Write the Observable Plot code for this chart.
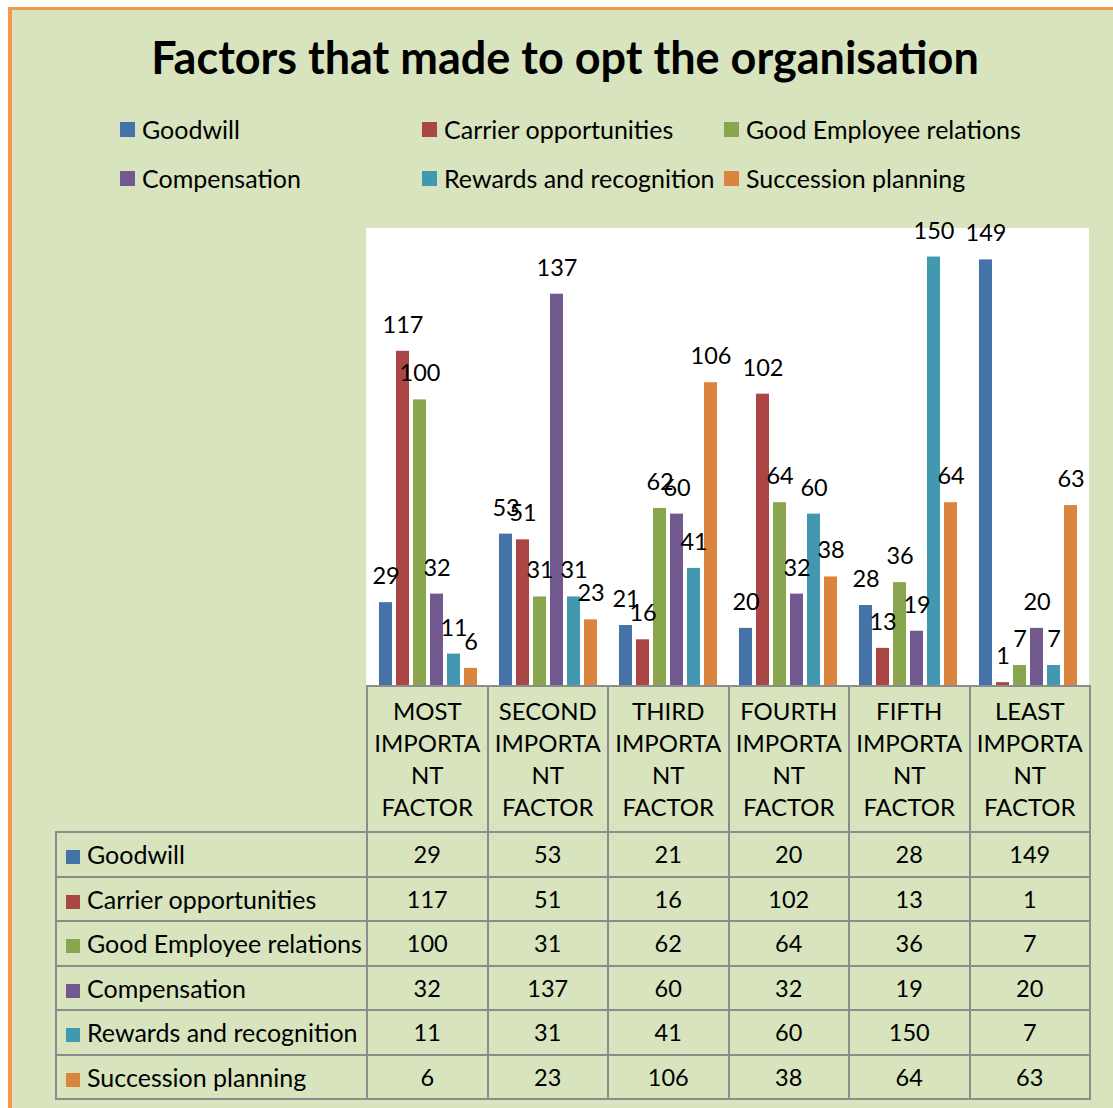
<!DOCTYPE html>
<html><head><meta charset="utf-8">
<script src="https://cdn.jsdelivr.net/npm/d3@7"></script>
<script src="https://cdn.jsdelivr.net/npm/@observablehq/plot@0.6"></script>
<style>
body{margin:0;background:#fff;}
#page{position:relative;width:1113px;height:1108px;background:#fff;overflow:hidden;font-family:Lato, "Open Sans", sans-serif;color:#000;}
#bg{position:absolute;left:8px;top:7px;right:0;bottom:0;background:#d7e4bd;border-left:4px solid #f79646;border-top:3px solid #f79646;}
#title{position:absolute;left:17px;width:1096px;top:35px;text-align:center;font-size:45px;line-height:45px;font-weight:700;white-space:nowrap;}
.leg{position:absolute;font-size:25px;line-height:25px;white-space:nowrap;display:flex;align-items:center;}
.leg .sw{display:inline-block;width:15px;height:15px;margin-right:7px;}
#plotbg{position:absolute;left:366px;top:228px;width:723px;height:457px;background:#fff;}
#chart{position:absolute;left:0;top:200px;}
#tbl{position:absolute;left:55px;top:685px;border-collapse:collapse;table-layout:fixed;width:1034px;font-size:23.5px;}
#tbl td{border:2px solid #8c8c8c;padding:0;text-align:center;vertical-align:middle;}
#tbl tr.head td{height:144px;line-height:32px;font-size:24px;}
#tbl tr.row td{height:42.5px;line-height:24px;}
#tbl td.lab{text-align:left;padding-left:9px;white-space:nowrap;font-size:25px;}
#tbl td.lab .sw{display:inline-block;width:14px;height:14px;margin-right:7px;vertical-align:0px;}
#tbl td.blank{border-top:none;border-left:none;}
</style>
</head><body>
<div id="page">
  <div id="bg"></div>
  <div id="title">Factors that made to opt the organisation</div>
  <div id="plotbg"></div>
  <div id="chart"></div>
</div>
<script>
// ---- data ----
const categories = ["MOST IMPORTANT FACTOR", "SECOND IMPORTANT FACTOR", "THIRD IMPORTANT FACTOR", "FOURTH IMPORTANT FACTOR", "FIFTH IMPORTANT FACTOR", "LEAST IMPORTANT FACTOR"];
const tickLabels = [["MOST","IMPORTA","NT","FACTOR"],["SECOND","IMPORTA","NT","FACTOR"],["THIRD","IMPORTA","NT","FACTOR"],["FOURTH","IMPORTA","NT","FACTOR"],["FIFTH","IMPORTA","NT","FACTOR"],["LEAST","IMPORTA","NT","FACTOR"]];
const series = ["Goodwill", "Carrier opportunities", "Good Employee relations", "Compensation", "Rewards and recognition", "Succession planning"];
const colors = ["#4572a7", "#aa4643", "#89a54e", "#71588f", "#4198af", "#db843d"];
const goodwill = [29, 53, 21, 20, 28, 149];
const carrierOpportunities = [117, 51, 16, 102, 13, 1];
const goodEmployeeRelations = [100, 31, 62, 64, 36, 7];
const compensation = [32, 137, 60, 32, 19, 20];
const rewardsAndRecognition = [11, 31, 41, 60, 150, 7];
const successionPlanning = [6, 23, 106, 38, 64, 63];
const seriesValues = [goodwill, carrierOpportunities, goodEmployeeRelations, compensation, rewardsAndRecognition, successionPlanning];

const data = series.flatMap((s, i) => categories.map((c, j) => ({series: s, category: c, value: seriesValues[i][j]})));

// ---- legend ----
const page = document.getElementById("page");
const legendCols = [120, 422, 724];
const legendRows = [117, 166];
series.forEach((s, i) => {
  const d = document.createElement("div");
  d.className = "leg";
  d.style.left = legendCols[i % 3] + "px";
  d.style.top = legendRows[Math.floor(i / 3)] + "px";
  d.innerHTML = `<span class="sw" style="background:${colors[i]}"></span><span>${s}</span>`;
  page.appendChild(d);
});

// ---- chart ----
const chart = Plot.plot({
  width: 1113, height: 485,
  marginLeft: 366, marginRight: 24, marginTop: 28, marginBottom: 0,
  style: {background: "transparent", fontFamily: "Lato, sans-serif", overflow: "visible"},
  fx: {domain: categories, padding: 0, axis: null},
  x: {domain: series, paddingInner: 0.22, paddingOuter: 0.5, axis: null},
  y: {domain: [0, 160], axis: null},
  color: {domain: series, range: colors},
  marks: [
    Plot.barY(data, {fx: "category", x: "series", y: "value", fill: "series"}),
    Plot.text(data, {fx: "category", x: "series", y: "value", text: d => String(d.value), dy: -26, fontSize: 23.5, fill: "black"})
  ]
});
document.getElementById("chart").appendChild(chart);

// ---- data table ----
const tbl = document.createElement("table");
tbl.id = "tbl";
const cg = document.createElement("colgroup");
cg.innerHTML = `<col style="width:311px">` + categories.map(() => `<col style="width:120.5px">`).join("");
tbl.appendChild(cg);
const head = document.createElement("tr");
head.className = "head";
head.innerHTML = `<td class="blank"></td>` + tickLabels.map(l => `<td>${l.join("<br>")}</td>`).join("");
tbl.appendChild(head);
series.forEach((s, i) => {
  const tr = document.createElement("tr");
  tr.className = "row";
  tr.innerHTML = `<td class="lab"><span class="sw" style="background:${colors[i]}"></span>${s}</td>` +
    seriesValues[i].map(v => `<td>${v}</td>`).join("");
  tbl.appendChild(tr);
});
page.appendChild(tbl);
</script>
</body></html>
